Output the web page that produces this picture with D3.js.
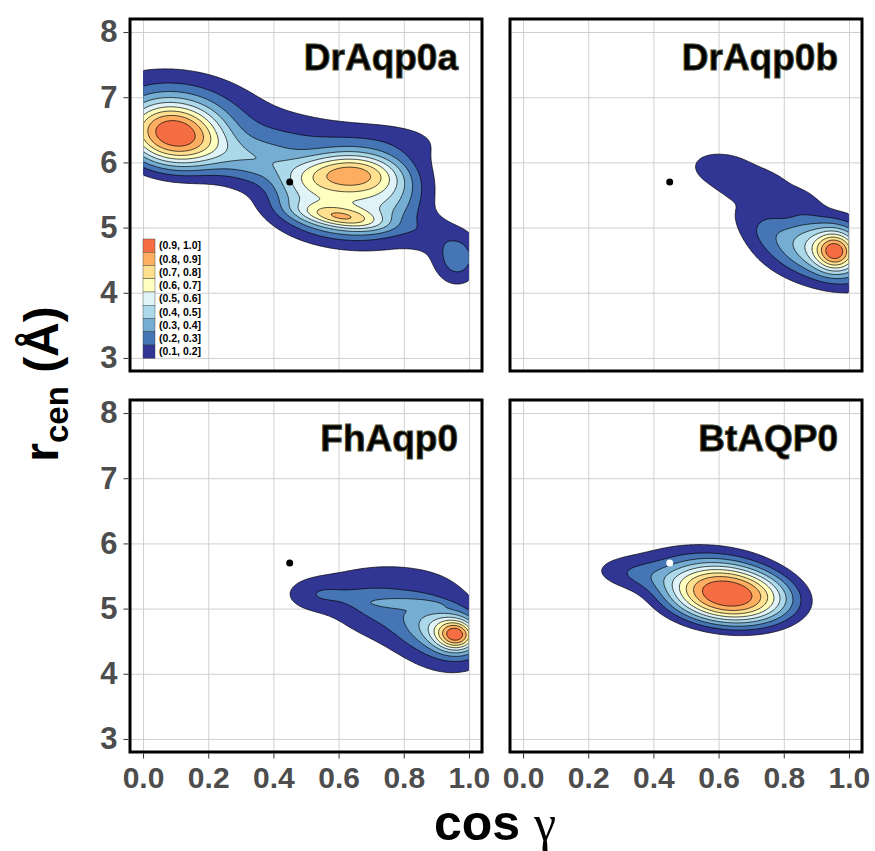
<!DOCTYPE html>
<html>
<head>
<meta charset="utf-8">
<script src="https://cdn.jsdelivr.net/npm/d3@7"></script>
<style>
  body { margin: 0; background: #fff; }
  svg { display: block; }
</style>
</head>
<body>
<div id="chart"></div>
<script>
const panelNames = ["DrAqp0a", "DrAqp0b", "FhAqp0", "BtAQP0"];
const xTicks = [0, 0.2, 0.4, 0.6, 0.8, 1.0];
const yTicks = [3, 4, 5, 6, 7, 8];
const levels = [0.1, 0.2, 0.3, 0.4, 0.5, 0.6, 0.7, 0.8, 0.9];
const levelLabels = ["(0.1, 0.2]", "(0.2, 0.3]", "(0.3, 0.4]", "(0.4, 0.5]", "(0.5, 0.6]",
                     "(0.6, 0.7]", "(0.7, 0.8]", "(0.8, 0.9]", "(0.9, 1.0]"];
const levelColors = ["#313695", "#4575b4", "#74add1", "#abd9e9", "#e0f3f8",
                     "#ffffbf", "#fee090", "#fdae61", "#f46d43"];
const refPoint = [0.45, 5.7];
const refColors = ["#000", "#000", "#000", "#fff"];

// density components:
// [cos γ centre, r_cen centre, sd cos γ, sd r_cen, correlation, weight, flatness]
const blobsDrAqp0a = [
  [0.09, 6.40, 0.11, 0.36, -0.1, 0.85, 1.15],
  [0.12, 6.80, 0.18, 0.45, -0.2, 0.28, 1],
  [0.35, 6.02, 0.12, 0.26, -0.3, 0.28, 1],
  [0.45, 6.45, 0.12, 0.30, 0.0, 0.07, 1],
  [0.625, 5.48, 0.18, 0.50, 0.0, 0.38, 2],
  [0.65, 5.85, 0.11, 0.24, 0.0, 0.45, 1],
  [0.61, 5.16, 0.09, 0.13, -0.5, 0.36, 1],
  [0.60, 5.40, 0.22, 0.60, -0.1, 0.16, 1],
  [0.72, 6.35, 0.18, 0.25, 0.0, 0.12, 1],
  [0.74, 4.85, 0.12, 0.20, 0.0, 0.06, 1],
  [0.965, 4.52, 0.05, 0.28, 0.0, 0.26, 1],
  [0.87, 4.95, 0.05, 0.20, 0.0, 0.08, 1]
];
const blobsDrAqp0b = [
  [0.958, 4.64, 0.04, 0.20, 0.0, 0.45, 1],
  [0.93, 4.66, 0.13, 0.36, -0.3, 0.50, 1],
  [0.63, 5.85, 0.12, 0.33, -0.3, 0.12, 2],
  [0.80, 5.55, 0.10, 0.28, -0.4, 0.085, 2],
  [0.70, 5.20, 0.075, 0.38, -0.5, 0.075, 1.5]
];
const blobsFhAqp0 = [
  [0.962, 4.60, 0.04, 0.16, 0.0, 0.45, 1],
  [0.94, 4.63, 0.08, 0.25, -0.3, 0.30, 1],
  [0.80, 5.08, 0.10, 0.07, -0.2, 0.10, 2],
  [0.52, 5.22, 0.07, 0.20, 0.0, 0.13, 1],
  [0.66, 5.10, 0.09, 0.37, -0.2, 0.13, 1],
  [0.80, 4.95, 0.10, 0.55, -0.3, 0.13, 1],
  [0.94, 4.78, 0.10, 0.64, -0.2, 0.12, 1]
];
const blobsBtAQP0 = [
  [0.63, 5.21, 0.14, 0.34, -0.15, 0.90, 1.25],
  [0.52, 5.72, 0.15, 0.25, 0.0, 0.13, 1],
  [0.34, 5.52, 0.09, 0.18, -0.2, 0.13, 1]
];
const panelBlobs = [blobsDrAqp0a, blobsDrAqp0b, blobsFhAqp0, blobsBtAQP0];

const width = 875, height = 851;
const size = 352;
const lefts = [130, 510], tops = [19, 400];
const xDomain = [-0.04, 1.04], yDomain = [2.8, 8.2];
const nx = 200, ny = 270;
const ystep = (yDomain[1] - yDomain[0]) / ny;

const svg = d3.select('#chart').append('svg')
  .attr('width', width).attr('height', height)
  .style('font-family', '"Liberation Sans", Arial, Helvetica, sans-serif');

function density(blobs, x, y) {
  let s = 0;
  for (const [cx, cy, sx, sy, rho, w, p] of blobs) {
    const u = (x - cx) / sx, v = (y - cy) / sy;
    const q = (u * u - 2 * rho * u * v + v * v) / (1 - rho * rho);
    s += w * Math.exp(-0.5 * Math.pow(q, p));
  }
  return s;
}

panelNames.forEach((name, k) => {
  const col = k % 2, row = Math.floor(k / 2);
  const x0 = lefts[col], y0 = tops[row];
  const x = d3.scaleLinear().domain(xDomain).range([x0, x0 + size]);
  const y = d3.scaleLinear().domain(yDomain).range([y0 + size, y0]);
  const g = svg.append('g');

  // grid
  g.append('g')
    .attr('transform', `translate(0,${y0 + size})`)
    .call(d3.axisBottom(x).tickValues(xTicks).tickSize(-size).tickFormat(''))
    .call(a => a.select('.domain').remove())
    .call(a => a.selectAll('line').attr('stroke', '#d0d0d0').attr('stroke-width', 1));
  g.append('g')
    .attr('transform', `translate(${x0},0)`)
    .call(d3.axisLeft(y).tickValues(yTicks).tickSize(-size).tickFormat(''))
    .call(a => a.select('.domain').remove())
    .call(a => a.selectAll('line').attr('stroke', '#d0d0d0').attr('stroke-width', 1));

  // density grid, normalised to its maximum
  const values = new Float64Array(nx * ny);
  let vmax = 0;
  for (let j = 0; j < ny; j++) {
    const yy = yDomain[0] + (j + 0.5) * ystep;
    for (let i = 0; i < nx; i++) {
      const v = density(panelBlobs[k], (i + 0.5) / nx, yy);
      values[j * nx + i] = v;
      if (v > vmax) vmax = v;
    }
  }
  for (let i = 0; i < values.length; i++) values[i] /= vmax;

  const contours = d3.contours().size([nx, ny]).thresholds(levels)(values);
  const path = d3.geoPath(d3.geoTransform({
    point: function(px, py) {
      this.stream.point(x(px / nx), y(yDomain[0] + py * ystep));
    }
  }));

  const clipId = 'clipl' + k;
  svg.append('clipPath').attr('id', clipId).append('rect')
    .attr('x', x(0) + 0.8).attr('y', y0).attr('width', x(1) - x(0) - 1.6).attr('height', size);

  g.append('g').selectAll('path').data(contours).join('path')
    .attr('d', path)
    .attr('fill', (d, i) => levelColors[i]);
  g.append('g').attr('clip-path', `url(#${clipId})`)
    .selectAll('path').data(contours).join('path')
    .attr('d', path)
    .attr('fill', 'none')
    .attr('stroke', '#000')
    .attr('stroke-width', 0.7);

  g.append('circle')
    .attr('cx', x(refPoint[0])).attr('cy', y(refPoint[1]))
    .attr('r', 3.5).attr('fill', refColors[k]);

  // legend in the first panel
  if (k === 0) {
    const lg = g.append('g');
    const rowH = 13.25, top = 239;
    levels.slice().reverse().forEach((lv, r) => {
      const idx = levels.length - 1 - r;
      lg.append('rect')
        .attr('x', 143).attr('y', top + r * rowH)
        .attr('width', 12).attr('height', rowH)
        .attr('fill', levelColors[idx]).attr('stroke', '#333').attr('stroke-width', 0.4);
      lg.append('text')
        .attr('x', 159).attr('y', top + r * rowH + rowH / 2 + 3.8)
        .attr('font-size', 10.5).attr('font-weight', 'bold')
        .text(levelLabels[idx]);
    });
  }

  // panel title
  g.append('text')
    .attr('x', x0 + size - 24).attr('y', y0 + 51)
    .attr('text-anchor', 'end')
    .attr('font-size', 37).attr('font-weight', 'bold')
    .attr('fill', '#000').attr('stroke', '#4a4a30').attr('stroke-width', 1)
    .text(name);

  // border
  g.append('rect')
    .attr('x', x0).attr('y', y0).attr('width', size).attr('height', size)
    .attr('fill', 'none').attr('stroke', '#000').attr('stroke-width', 3);

  // axes
  if (col === 0) {
    g.append('g')
      .attr('transform', `translate(${x0 - 1.5},0)`)
      .call(d3.axisLeft(y).tickValues(yTicks).tickSize(5).tickPadding(6).tickFormat(d3.format('d')))
      .call(a => a.select('.domain').remove())
      .call(a => a.selectAll('line').attr('stroke', '#333'))
      .call(a => a.selectAll('text').attr('font-size', 31).attr('font-weight', 'bold')
        .attr('fill', '#4d4d4d').attr('font-family', null));
  }
  if (row === 1) {
    g.append('g')
      .attr('transform', `translate(0,${y0 + size + 1.5})`)
      .call(d3.axisBottom(x).tickValues(xTicks).tickSize(5).tickPadding(8).tickFormat(d3.format('.1f')))
      .call(a => a.select('.domain').remove())
      .call(a => a.selectAll('line').attr('stroke', '#333'))
      .call(a => a.selectAll('text').attr('font-size', 30).attr('font-weight', 'bold')
        .attr('fill', '#4d4d4d').attr('font-family', null));
  }
});

// axis titles
const xt = svg.append('text')
  .attr('x', 495).attr('y', 840)
  .attr('text-anchor', 'middle')
  .attr('font-size', 50).attr('font-weight', 'bold');
xt.append('tspan').text('cos ');
xt.append('tspan').attr('font-family', '"Liberation Serif", "DejaVu Serif", serif')
  .attr('font-weight', 'normal').text('γ');

const yt = svg.append('text')
  .attr('transform', 'translate(58,384) rotate(-90)')
  .attr('text-anchor', 'middle')
  .attr('font-size', 48).attr('font-weight', 'bold');
yt.append('tspan').text('r');
yt.append('tspan').attr('font-size', 33).attr('dy', 10).text('cen');
yt.append('tspan').attr('dy', -10).text(' (Å)');
</script>
</body>
</html>
